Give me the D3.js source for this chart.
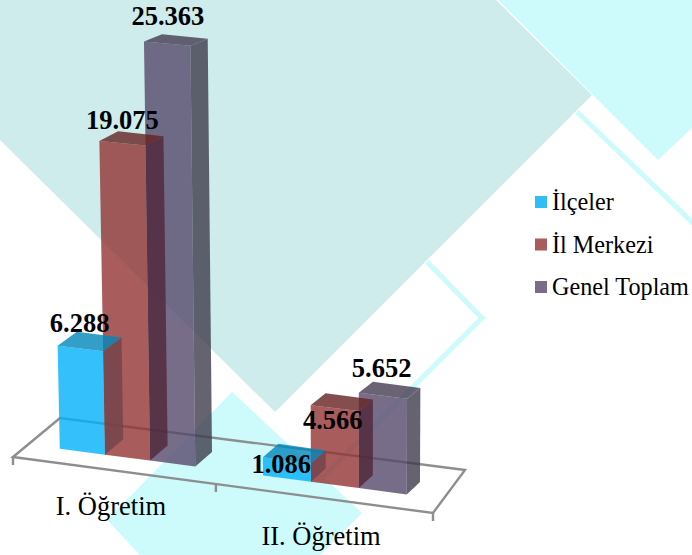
<!DOCTYPE html>
<html><head><meta charset="utf-8">
<script src="https://cdnjs.cloudflare.com/ajax/libs/d3/7.8.5/d3.min.js"></script>
<style>html,body{margin:0;padding:0;background:#fff}svg{display:block}text{font-family:"Liberation Serif",serif;fill:#000}</style>
</head><body><script>
const categories = ["I. Öğretim", "II. Öğretim"];
const seriesNames = ["İlçeler", "İl Merkezi", "Genel Toplam"];
const ilceler = [6288, 1086];
const ilMerkezi = [19075, 4566];
const genelToplam = [25363, 5652];
const seriesValues = [ilceler, ilMerkezi, genelToplam];

// styling and layout
const legendColors = ["#2fbdf7", "#a85c5c", "#786c88"];
const frontColors = ["#00b0fa", "#933333", "#56496a"];
const topColors = ["#0087ba", "#662222", "#433c51"];
const sideColors = ["#72434a", "#50263a", "#3d3c4b"];
const labelOffsets = [[0, -2, -9], [29, 36, -5]];
const labelShiftX = [[-1, 0, 1], [-4, 0, 1]];
const faceAlpha = 0.8;
const fmt = v => d3.format(",")(v).replace(",", ".");

const W = 692, H = 555;
const svg = d3.select("body").append("svg").attr("width", W).attr("height", H);
const line = d3.line();
const poly = p => line(p) + "Z";

// decorative background
const bg = svg.append("g");
bg.append("path").attr("fill", "#cdfbfc").attr("d", poly([[498,0],[692,0],[692,128],[658,160]]));
bg.append("path").attr("fill", "#cdeceb").attr("d", poly([[0,0],[496,0],[592,95],[275,412],[0,140]]));
bg.append("path").attr("fill", "#cdfbfc").attr("d", poly([[232,392],[362,513],[320,555],[140,555],[107,520]]));
bg.append("path").attr("fill", "none").attr("stroke", "#cdfbfc").attr("stroke-width", 5).attr("d", line([[577,112],[694,224]]));
bg.append("path").attr("fill", "none").attr("stroke", "#cdfbfc").attr("stroke-width", 5).attr("d", line([[427,262],[482,318],[312,488]]));

// floor projection: (u along axis, v in depth)
const A = [13,457], B = [433,513], C = [465,470], D = [60,418];
const lerp = (a,b,t) => [a[0]+(b[0]-a[0])*t, a[1]+(b[1]-a[1])*t];
const ground = (u,v) => lerp(lerp(A,D,v), lerp(B,C,v), u);

const slot = d3.scaleLinear().domain([0,4.5,7.5]).range([0.0765,0.566,0.912]);
const depthX = d3.scaleLinear().domain([0,8.5]).range([19,12.5]);
const depthY = d3.scaleLinear().domain([0,8.5]).range([16,12]);
const vFront = 0.32;
const height = d3.scaleLinear().domain([0,25363]).range([0,419]);
const tickU = d3.scaleLinear().domain([0,1,2]).range([0,0.483,1]);
const lean = 7e-5, leanCx = 360, backShrink = 0.98, widen = 1e-4, widenCx = 150;

const up = (p,h,back) => {
  const hh = h * (back ? backShrink : 1) * (1 + (p[0]-widenCx)*widen);
  return [p[0] - (leanCx - p[0]) * hh * lean, p[1] - hh];
};

// floor
const floor = svg.append("g").attr("fill","none").attr("stroke","#8e8e8e").attr("stroke-width",2.4);
floor.append("path").attr("d", poly([A,B,C,D]));
d3.range(3).forEach(i=>{
  const p = ground(tickU(i),0);
  floor.append("path").attr("d", line([p,[p[0],p[1]+8]]));
});

// bars: drawn back series first so that nearer side faces overlay
const labels = [];
const barG = svg.append("g");
categories.forEach((c,ci)=>{
  d3.range(seriesValues.length-1,-1,-1).forEach(si=>{
    const vals = seriesValues[si];
    const s0 = (ci===0?0:4.5)+si, s1 = s0+1;
    const h = height(vals[ci]);
    const f0 = ground(slot(s0),vFront), f1 = ground(slot(s1),vFront);
    const b0 = [f0[0]+depthX(s0), f0[1]-depthY(s0)], b1 = [f1[0]+depthX(s1), f1[1]-depthY(s1)];
    const t0=up(f0,h), t1=up(f1,h), tb0=up(b0,h,true), tb1=up(b1,h,true);
    const g = barG.append("g").attr("fill-opacity",faceAlpha);
    g.append("path").attr("d",poly([f0,f1,t1,t0])).attr("fill",frontColors[si]);
    g.append("path").attr("d",poly([f1,b1,tb1,t1])).attr("fill",sideColors[si]);
    g.append("path").attr("d",poly([t0,t1,tb1,tb0])).attr("fill",topColors[si]);
    labels.push({text:fmt(vals[ci]), x:(t0[0]+tb1[0])/2-9+labelShiftX[ci][si], y:tb0[1]+labelOffsets[ci][si]});
  });
});
// data labels
svg.append("g").selectAll("text").data(labels).join("text")
  .attr("x",d=>d.x).attr("y",d=>d.y).attr("text-anchor","middle")
  .attr("font-size",26.5).attr("font-weight","bold").text(d=>d.text);

// category labels
svg.append("g").selectAll("text").data(categories).join("text")
  .attr("x",(d,i)=>ground(i===0?0.25:0.75,0)[0]-7)
  .attr("y",(d,i)=>ground(i===0?0.25:0.75,0)[1]+(i===0?44:46))
  .attr("text-anchor","middle").attr("font-size",26.5).text(d=>d);

// legend
const legendY = d3.scalePoint().domain(seriesNames).range([202,287]);
const lg = svg.append("g").selectAll("g").data(seriesNames).join("g");
lg.append("rect").attr("x",535).attr("y",d=>legendY(d)-6).attr("width",12).attr("height",12).attr("fill",(d,i)=>legendColors[i]);
lg.append("text").attr("x",552).attr("y",d=>legendY(d)+8).attr("font-size",24.2).text(d=>d);
</script></body></html>
